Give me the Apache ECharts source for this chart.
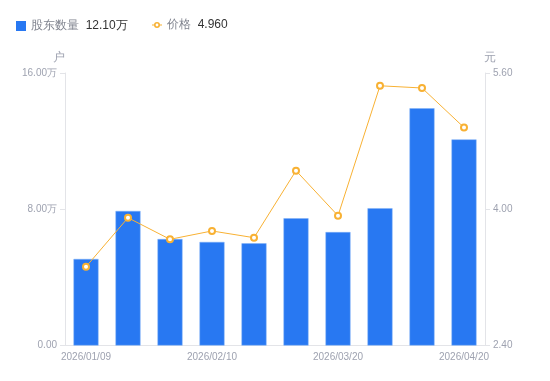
<!DOCTYPE html>
<html><head><meta charset="utf-8">
<script src="https://cdn.jsdelivr.net/npm/echarts@6/dist/echarts.min.js"></script>
<style>html,body{margin:0;padding:0;background:#fff}#c{width:550px;height:381px}</style>
</head><body><div id="c"></div>
<script>
const categories = ['2026/01/09','2026/01/20','2026/01/30','2026/02/10','2026/02/28','2026/03/10','2026/03/20','2026/03/31','2026/04/10','2026/04/20'];
const holders = [5.08, 7.90, 6.25, 6.08, 6.00, 7.47, 6.66, 8.06, 13.93, 12.10]; // 万户
const prices = [3.325, 3.900, 3.647, 3.745, 3.666, 4.453, 3.924, 5.450, 5.424, 4.960];
const leftTicks = {min: 0, max: 16, interval: 8};
const rightTicks = {min: 2.4, max: 5.6, interval: 1.6};

const labelColor = '#9ea2b0';
const lineColor = '#e3e4e8';
const orange = '#f8b133';
const chart = echarts.init(document.getElementById('c'), null, {renderer: 'canvas'});
const lastH = holders[holders.length - 1];
const lastP = prices[prices.length - 1];
const legendText = {fontSize: 12, rich: {n: {color: '#80848f', fontSize: 12}, v: {color: '#333', fontSize: 12}}};
const lineIcon = 'path://M0,2.5H2.2V3.5H0Z M7.8,2.5H10V3.5H7.8Z M2,3A3,3,0,0,1,8,3A3,3,0,0,1,2,3Z M3.6,3A1.4,1.4,0,0,0,6.4,3A1.4,1.4,0,0,0,3.6,3Z';
chart.setOption({
  animation: false,
  legend: [{
    left: 16, top: 20, padding: 0, itemWidth: 10, itemHeight: 10, itemGap: 5,
    textStyle: legendText,
    formatter: name => '{n|' + name + '}  {v|' + lastH.toFixed(2) + '万}',
    data: [{name: '股东数量', icon: 'rect', itemStyle: {color: '#2878f2', borderWidth: 0}}]
  }, {
    left: 152, top: 19, padding: 0, itemWidth: 10, itemHeight: 6,
    textStyle: legendText,
    formatter: name => '{n|' + name + '}  {v|' + lastP.toFixed(3) + '}',
    data: [{name: '价格', icon: lineIcon, itemStyle: {color: orange, borderWidth: 0}}]
  }],
  grid: {left: 65, right: 65, top: 73, bottom: 35.5},
  xAxis: {
    type: 'category', data: categories,
    axisLine: {lineStyle: {color: lineColor}},
    axisTick: {show: false},
    axisLabel: {color: labelColor, fontSize: 10, interval: 2, margin: 7}
  },
  yAxis: [{
    type: 'value', name: '户', min: leftTicks.min, max: leftTicks.max, interval: leftTicks.interval,
    nameTextStyle: {color: labelColor, fontSize: 12, padding: [0, 12, 0, 0]}, nameGap: 9,
    axisLine: {show: true, lineStyle: {color: lineColor}},
    axisTick: {show: true, length: 5, lineStyle: {color: lineColor}},
    splitLine: {show: false},
    axisLabel: {color: labelColor, fontSize: 10, margin: 8, formatter: v => v === 0 ? '0.00' : v.toFixed(2) + '万'}
  }, {
    type: 'value', name: '元', min: rightTicks.min, max: rightTicks.max, interval: rightTicks.interval,
    nameTextStyle: {color: labelColor, fontSize: 12, padding: [0, 0, 0, 10]}, nameGap: 9,
    axisLine: {show: true, lineStyle: {color: lineColor}},
    axisTick: {show: true, length: 5, lineStyle: {color: lineColor}},
    splitLine: {show: false},
    axisLabel: {color: labelColor, fontSize: 10, margin: 8, formatter: v => v.toFixed(2)}
  }],
  series: [{
    name: '股东数量', type: 'bar', data: holders, barWidth: 25,
    itemStyle: {color: '#2878f2', borderColor: '#7fb0f7', borderWidth: 0.5}
  }, {
    name: '价格', type: 'line', yAxisIndex: 1, data: prices,
    symbol: 'emptyCircle', symbolSize: 6,
    lineStyle: {color: orange, width: 1},
    itemStyle: {color: orange, borderWidth: 2}
  }]
});
</script></body></html>
